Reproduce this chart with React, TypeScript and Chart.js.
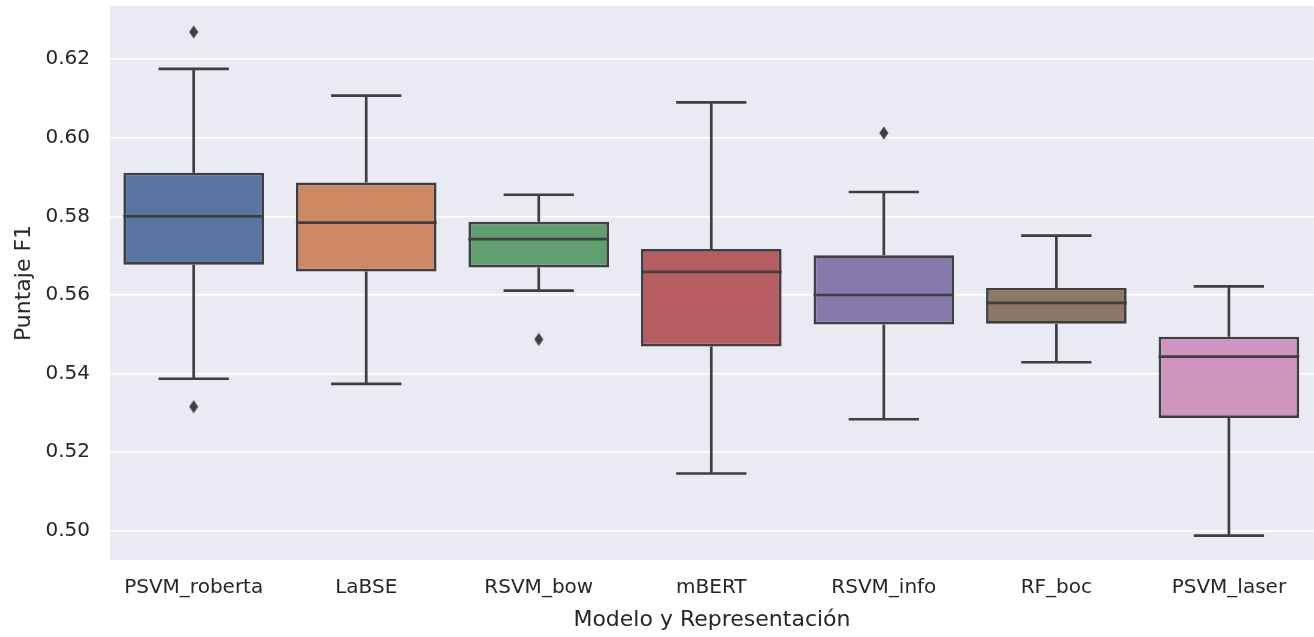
import React, { useEffect, useRef } from 'react';
import { Chart, registerables } from 'chart.js';

Chart.register(...registerables);

const categories = ['PSVM_roberta', 'LaBSE', 'RSVM_bow', 'mBERT', 'RSVM_info', 'RF_boc', 'PSVM_laser'];
const lowerWhisker = [0.5387, 0.5374, 0.5611, 0.5146, 0.5284, 0.5429, 0.4988];
const q1Values = [0.5677, 0.5660, 0.5670, 0.5469, 0.5525, 0.5527, 0.5287];
const medianValues = [0.5800, 0.5784, 0.5742, 0.5659, 0.5600, 0.5580, 0.5443];
const q3Values = [0.5911, 0.5886, 0.5786, 0.5717, 0.5701, 0.5618, 0.5494];
const upperWhisker = [0.6175, 0.6107, 0.5855, 0.6090, 0.5862, 0.5751, 0.5622];
const outlierCategories = ['PSVM_roberta', 'PSVM_roberta', 'RSVM_bow', 'RSVM_info'];
const outlierValues = [0.6269, 0.5316, 0.5487, 0.6012];
const yTicks = [0.50, 0.52, 0.54, 0.56, 0.58, 0.60, 0.62];
const boxColors = ['#5975a4', '#cc8963', '#5f9e6e', '#b55d60', '#857aab', '#8d7866', '#d095bf'];

const LINE = '#3f3f3f';
const TEXT = '#262626';
const FONT = "'DejaVu Sans', sans-serif";

function makeDiamond() {
  const c = document.createElement('canvas');
  c.width = 10;
  c.height = 14;
  const g = c.getContext('2d')!;
  g.fillStyle = LINE;
  g.beginPath();
  g.moveTo(5, 0.5);
  g.lineTo(9.5, 7);
  g.lineTo(5, 13.5);
  g.lineTo(0.5, 7);
  g.closePath();
  g.fill();
  return c;
}

const boxPlugin = {
  id: 'boxParts',
  beforeDraw(chart: any) {
    const { ctx, chartArea } = chart;
    ctx.save();
    ctx.fillStyle = '#eaeaf2';
    ctx.fillRect(chartArea.left, chartArea.top, chartArea.right - chartArea.left, chartArea.bottom - chartArea.top);
    ctx.restore();
  },
  afterDatasetsDraw(chart: any) {
    const { ctx } = chart;
    const y = chart.scales.y;
    const meta = chart.getDatasetMeta(0);
    ctx.save();
    ctx.strokeStyle = LINE;
    ctx.lineWidth = 2.7;
    ctx.lineCap = 'butt';
    meta.data.forEach((bar: any, i: number) => {
      const { x, width } = bar.getProps(['x', 'width'], true);
      const half = width / 2;
      const cap = width / 4;
      const pQ1 = y.getPixelForValue(q1Values[i]);
      const pQ3 = y.getPixelForValue(q3Values[i]);
      const pMed = y.getPixelForValue(medianValues[i]);
      const pLo = y.getPixelForValue(lowerWhisker[i]);
      const pHi = y.getPixelForValue(upperWhisker[i]);
      ctx.beginPath();
      ctx.moveTo(x, pQ3);
      ctx.lineTo(x, pHi);
      ctx.moveTo(x - cap, pHi);
      ctx.lineTo(x + cap, pHi);
      ctx.moveTo(x, pQ1);
      ctx.lineTo(x, pLo);
      ctx.moveTo(x - cap, pLo);
      ctx.lineTo(x + cap, pLo);
      ctx.moveTo(x - half, pMed);
      ctx.lineTo(x + half, pMed);
      ctx.stroke();
    });
    ctx.restore();
  },
};

export default function App() {
  const ref = useRef<HTMLCanvasElement>(null);
  useEffect(() => {
    if (!ref.current) return;
    const diamond = makeDiamond();
    const chart = new Chart(ref.current, {
      type: 'bar',
      data: {
        datasets: [
          {
            type: 'bar',
            data: categories.map((_, i) => ({ x: i, y: [q1Values[i], q3Values[i]] })) as any,
            backgroundColor: boxColors,
            borderColor: LINE,
            borderWidth: 2.7,
            borderSkipped: false,
            barPercentage: 0.815,
            categoryPercentage: 1,
          } as any,
          {
            type: 'line',
            data: outlierCategories.map((c, i) => ({ x: categories.indexOf(c), y: outlierValues[i] })) as any,
            showLine: false,
            pointStyle: diamond as any,
            pointRadius: 0.1,
            pointHoverRadius: 0,
            pointBorderWidth: 0,
            borderWidth: 0,
            borderColor: LINE,
            backgroundColor: LINE,
          } as any,
        ],
      },
      options: {
        animation: false,
        responsive: false,
        devicePixelRatio: 1,
        layout: { padding: { top: 6, right: 0, left: 0, bottom: 0 } },
        plugins: { legend: { display: false }, tooltip: { enabled: false } },
        scales: {
          x: {
            type: 'linear',
            min: -0.485,
            max: 6.4926,
            offset: false,
            grid: { display: false, drawTicks: false },
            border: { display: false },
            ticks: {
              color: TEXT,
              font: { family: FONT, size: 20 },
              padding: 16,
              autoSkip: false,
              maxRotation: 0,
              callback: (v: any) => categories[Math.round(Number(v))] ?? '',
            },
            afterBuildTicks: (s: any) => {
              s.ticks = categories.map((_, i) => ({ value: i }));
            },
            title: {
              display: true,
              text: 'Modelo y Representación',
              color: TEXT,
              font: { family: FONT, size: 22 },
              padding: { top: 0, bottom: 4 },
            },
            afterFit: (s: any) => {
              s.height = 77;
              s.paddingLeft = 0;
              s.paddingRight = 0;
              s.paddingTop = 0;
              s.paddingBottom = 0;
            },
          } as any,
          y: {
            min: 0.4926,
            max: 0.6335,
            grid: { color: '#ffffff', lineWidth: 1.6, drawTicks: false },
            border: { display: false },
            ticks: {
              color: TEXT,
              font: { family: FONT, size: 20 },
              padding: 20,
              callback: (v: any) => Number(v).toFixed(2),
            },
            afterBuildTicks: (s: any) => {
              s.ticks = yTicks.map((v) => ({ value: v }));
            },
            title: {
              display: true,
              text: 'Puntaje F1',
              color: TEXT,
              font: { family: FONT, size: 22 },
              padding: { top: 11, bottom: 0 },
            },
            afterFit: (s: any) => {
              s.width = 110;
              s.paddingLeft = 0;
              s.paddingRight = 0;
              s.paddingTop = 0;
              s.paddingBottom = 0;
            },
          },
        },
      },
      plugins: [boxPlugin],
    });
    return () => chart.destroy();
  }, []);
  return (
    <div style={{ position: 'fixed', left: 0, top: 0, width: 1314, height: 637, background: '#ffffff' }}>
      <canvas ref={ref} width={1314} height={637} />
    </div>
  );
}
